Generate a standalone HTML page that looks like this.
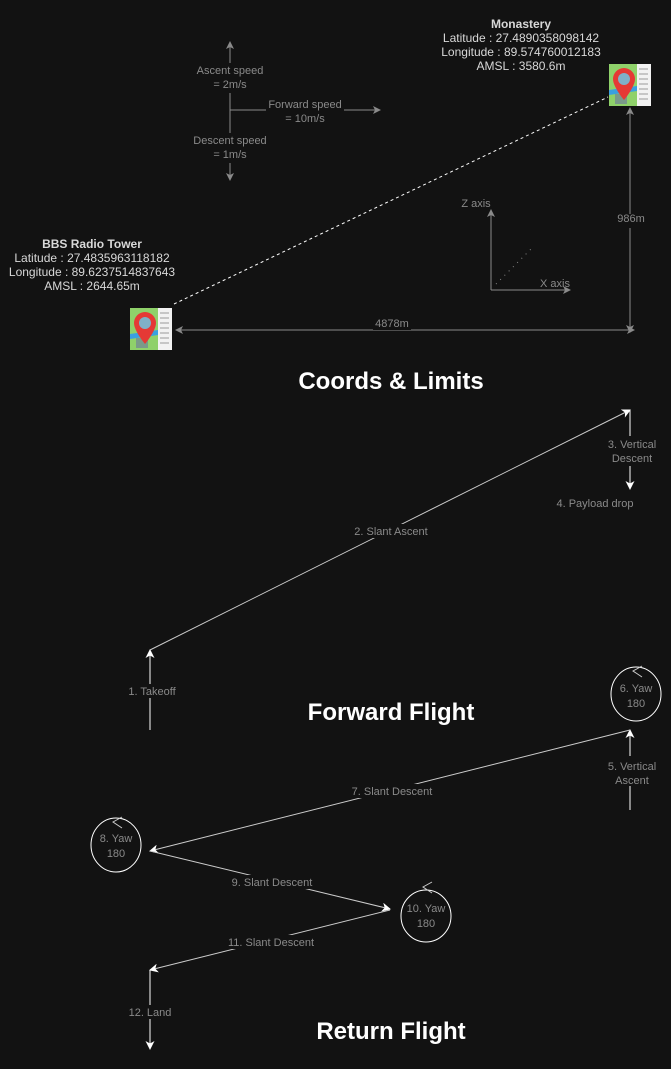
<!DOCTYPE html>
<html><head><meta charset="utf-8"><style>
html,body{margin:0;padding:0;background:#121212;}
svg{display:block;font-family:"Liberation Sans",sans-serif;}
.g{fill:#8a8a8a;font-size:11px;text-anchor:middle;}
.w{fill:#d8d8d8;font-size:12px;text-anchor:middle;}
.t{fill:#fff;font-size:24px;font-weight:bold;text-anchor:middle;}
</style></head><body>
<svg width="671" height="1069" viewBox="0 0 671 1069">
<defs>
<marker id="ag" markerWidth="8" markerHeight="8" refX="7" refY="4" orient="auto" markerUnits="userSpaceOnUse"><path d="M0,0 L8,4 L0,8 L2,4 Z" fill="#8a8a8a"/></marker>
<marker id="aw" markerWidth="9" markerHeight="9" refX="8" refY="4.5" orient="auto" markerUnits="userSpaceOnUse"><path d="M0,0 L9,4.5 L0,9 L2.5,4.5 Z" fill="#fff"/></marker>
<g id="map">
<rect x="0" y="0" width="42" height="42" fill="#8fd16a"/>
<rect x="28" y="0" width="14" height="42" fill="#f2f2f2"/>
<path d="M30 5h9M30 10h9M30 15h9M30 20h9M30 25h9M30 30h9M30 35h9" stroke="#999" stroke-width="1"/>
<path d="M0 26 L28 22 L28 27 L0 31Z" fill="#3aa0e0"/>
<rect x="6" y="30" width="12" height="10" fill="#7a9a8a"/>
<path d="M15 4 a11 11 0 0 1 11 11 c0 8 -11 21 -11 21 c0 0 -11 -13 -11 -21 a11 11 0 0 1 11 -11z" fill="#e53935"/>
<circle cx="15" cy="15" r="6" fill="#7fb0c8"/>
</g>
</defs>

<g>
<line x1="230" y1="180" x2="230" y2="42" stroke="#8a8a8a" marker-end="url(#ag)"/>
<line x1="230" y1="110" x2="230" y2="180" stroke="#8a8a8a" marker-end="url(#ag)"/>
<line x1="230" y1="110" x2="380" y2="110" stroke="#8a8a8a" marker-end="url(#ag)"/>
<rect x="190" y="63" width="80" height="30" fill="#121212"/>
<rect x="266" y="97" width="78" height="30" fill="#121212"/>
<rect x="188" y="133" width="84" height="30" fill="#121212"/>
<text class="g" x="230" y="74">Ascent speed</text>
<text class="g" x="230" y="88">= 2m/s</text>
<text class="g" x="305" y="108">Forward speed</text>
<text class="g" x="305" y="122">= 10m/s</text>
<text class="g" x="230" y="144">Descent speed</text>
<text class="g" x="230" y="158">= 1m/s</text>
</g>

<g>
<text class="w" x="521" y="28" font-weight="bold" font-size="11">Monastery</text>
<text class="w" x="521" y="42">Latitude : 27.4890358098142</text>
<text class="w" x="521" y="56">Longitude : 89.574760012183</text>
<text class="w" x="521" y="70">AMSL : 3580.6m</text>
</g>
<use href="#map" x="609" y="64"/>
<g>
<text class="w" x="92" y="248" font-weight="bold" font-size="11">BBS Radio Tower</text>
<text class="w" x="92" y="262">Latitude : 27.4835963118182</text>
<text class="w" x="92" y="276">Longitude : 89.6237514837643</text>
<text class="w" x="92" y="290">AMSL : 2644.65m</text>
</g>
<use href="#map" x="130" y="308"/>

<line x1="174" y1="304" x2="608" y2="97" stroke="#fff" stroke-dasharray="3,3"/>
<line x1="630" y1="220" x2="630" y2="108" stroke="#8a8a8a" marker-end="url(#ag)"/>
<line x1="630" y1="220" x2="630" y2="332" stroke="#8a8a8a" marker-end="url(#ag)"/>
<rect x="615" y="214" width="30" height="14" fill="#121212"/>
<text class="g" x="631" y="222">986m</text>
<line x1="392" y1="330" x2="176" y2="330" stroke="#8a8a8a" marker-end="url(#ag)"/>
<line x1="392" y1="330" x2="634" y2="330" stroke="#8a8a8a" marker-end="url(#ag)"/>
<rect x="373" y="318" width="38" height="12" fill="#121212"/>
<text class="g" x="392" y="327">4878m</text>

<g>
<line x1="491" y1="290" x2="491" y2="210" stroke="#8a8a8a" marker-end="url(#ag)"/>
<line x1="491" y1="290" x2="570" y2="290" stroke="#8a8a8a" marker-end="url(#ag)"/>
<line x1="496" y1="284" x2="531" y2="249" stroke="#8a8a8a" stroke-dasharray="1,5"/>
<text class="g" x="476" y="207">Z axis</text>
<text class="g" x="555" y="287">X axis</text>
</g>
<text class="t" x="391" y="389">Coords &amp; Limits</text>

<g stroke="#fff" fill="none">
<line x1="150" y1="730" x2="150" y2="650" marker-end="url(#aw)"/>
<line x1="150" y1="650" x2="630" y2="410" marker-end="url(#aw)" stroke="#ccc"/>
<line x1="630" y1="410" x2="630" y2="489" marker-end="url(#aw)"/>
</g>
<rect x="124" y="684" width="58" height="14" fill="#121212"/>
<text class="g" x="152" y="695">1. Takeoff</text>
<rect x="352" y="524" width="80" height="14" fill="#121212"/>
<text class="g" x="391" y="535">2. Slant Ascent</text>
<rect x="606" y="436" width="52" height="30" fill="#121212"/>
<text class="g" x="632" y="448">3. Vertical</text>
<text class="g" x="632" y="462">Descent</text>
<text class="g" x="595" y="507">4. Payload drop</text>
<text class="t" x="391" y="720">Forward Flight</text>

<g stroke="#fff" fill="none">
<line x1="630" y1="810" x2="630" y2="730" marker-end="url(#aw)"/>
<line x1="630" y1="730" x2="150" y2="851" marker-end="url(#aw)" stroke="#ccc"/>
<line x1="150" y1="851" x2="390" y2="909" marker-end="url(#aw)" stroke="#ccc"/>
<line x1="390" y1="910" x2="150" y2="970" marker-end="url(#aw)" stroke="#ccc"/>
<line x1="150" y1="970" x2="150" y2="1049" marker-end="url(#aw)"/>
<ellipse cx="636" cy="694" rx="25" ry="27"/>
<path d="M642 666 L633 671 L642 677" stroke="#ccc"/>
<ellipse cx="116" cy="845" rx="25" ry="27"/>
<path d="M122 817 L113 822 L122 828" stroke="#ccc"/>
<ellipse cx="426" cy="916" rx="25" ry="26"/>
<path d="M432 882 L423 887 L432 893" stroke="#ccc"/>
</g>
<rect x="606" y="756" width="52" height="30" fill="#121212"/>
<text class="g" x="632" y="770">5. Vertical</text>
<text class="g" x="632" y="784">Ascent</text>
<text class="g" x="636" y="692" font-size="12">6. Yaw</text>
<text class="g" x="636" y="707" font-size="12">180</text>
<rect x="350" y="784" width="84" height="14" fill="#121212"/>
<text class="g" x="392" y="795">7. Slant Descent</text>
<text class="g" x="116" y="842" font-size="12">8. Yaw</text>
<text class="g" x="116" y="857" font-size="12">180</text>
<rect x="228" y="875" width="86" height="14" fill="#121212"/>
<text class="g" x="272" y="886">9. Slant Descent</text>
<text class="g" x="426" y="912" font-size="12">10. Yaw</text>
<text class="g" x="426" y="927" font-size="12">180</text>
<rect x="226" y="935" width="90" height="14" fill="#121212"/>
<text class="g" x="271" y="946">11. Slant Descent</text>
<rect x="126" y="1005" width="50" height="14" fill="#121212"/>
<text class="g" x="150" y="1016">12. Land</text>
<text class="t" x="391" y="1039">Return Flight</text>
</svg>
</body></html>
